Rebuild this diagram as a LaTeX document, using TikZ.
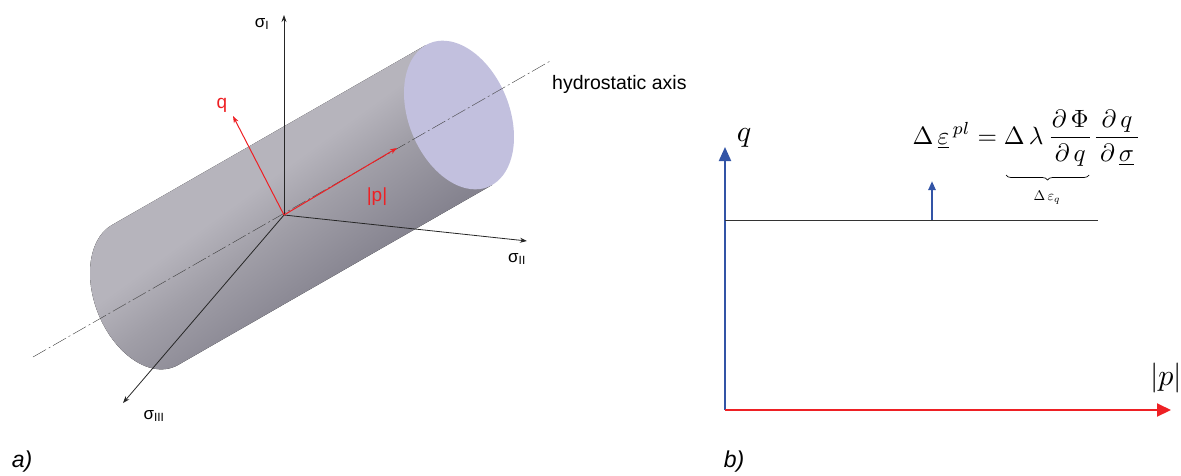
\documentclass[tikz,border=0pt]{standalone}
\usepackage{amsmath,amssymb}
\usepackage{fontspec}
\setmainfont{Liberation Sans}
\usetikzlibrary{arrows.meta,decorations.pathreplacing}
\definecolor{bodylight}{RGB}{182,180,188}
\definecolor{bodyedge}{RGB}{170,168,176}
\definecolor{bodymid}{RGB}{160,158,167}
\definecolor{bodydark}{RGB}{133,131,143}
\definecolor{bodyblue}{RGB}{150,150,186}
\definecolor{capface}{RGB}{194,192,222}
\definecolor{axisblue}{RGB}{50,84,166}
\definecolor{axisred}{RGB}{238,32,36}
\pgfdeclareverticalshading{cylbody}{100bp}{%
    color(0bp)=(bodyblue); color(28bp)=(bodyblue); color(31bp)=(bodydark); color(37bp)=(bodydark);
    color(48bp)=(bodymid); color(55bp)=(bodylight); color(66bp)=(bodylight); color(73bp)=(bodyedge); color(100bp)=(bodyedge)}

\begin{document}
\begin{tikzpicture}[
    x=1pt,
    y=-1pt,
    sigmaaxis/.style={-{Stealth[length=7pt,width=5pt]}, line width=0.8pt, black!85},
    redaxis/.style={-{Stealth[length=7pt,width=5pt]}, line width=1pt, axisred},
    sigmalabel/.style={font=\fontsize{17}{20}\selectfont, black},
    redlabel/.style={font=\fontsize{19}{20}\selectfont, axisred},
    panellabel/.style={font=\fontsize{23}{26}\selectfont\itshape, black},
    mathlabel/.style={scale=3, black}
]
\useasboundingbox (0,0) rectangle (1181,475);

% Cylinder body, far end arc taken as half an ellipse
\fill[shading=cylbody, shading angle=36]
    (426,45) -- (112,225)
    -- plot[domain=0:-180, samples=50, smooth] ({145+33*(-cos(\x))+44*sin(\x)}, {295-70*cos(\x)-25*sin(\x)})
    -- (492,185) -- cycle;

% Cylinder end face
\fill[capface] plot[domain=0:360, samples=80, smooth cycle] ({459-33*cos(\x)+44*sin(\x)}, {115-70*cos(\x)-25*sin(\x)});

% Free ends of the axes
\coordinate (origin) at (284,215);
\coordinate (sigIend) at (284,15);
\coordinate (sigIIend) at (527,241);
\coordinate (sigIIIend) at (123,403);
\coordinate (qend) at (233,116);
\coordinate (pend) at (397,148);
\coordinate (hydroA) at (33,357);
\coordinate (hydroB) at (552,60);

% Hydrostatic axis
\draw[thin, black!75, dash pattern=on 15pt off 3pt on 2pt off 3pt] (hydroA) -- (hydroB);

% Principal stress axes
\draw[sigmaaxis] (origin) -- (sigIend);
\draw[sigmaaxis] (origin) -- (sigIIend);
\draw[sigmaaxis] (origin) -- (sigIIIend);

% Red q and p arrows
\draw[redaxis] (origin) -- (qend);
\draw[redaxis] (origin) -- (pend);

% Labels of panel a
\node[sigmalabel] (sigI) at (262,24) {σ\textsubscript{I}};
\node[sigmalabel] (sigII) at (517,259) {σ\textsubscript{II}};
\node[sigmalabel] (sigIII) at (154,416) {σ\textsubscript{III}};
\node[redlabel] (qlabel) at (222,105) {q};
\node[redlabel] (plabel) at (377,197) {|p|};
\node[font=\fontsize{19.5}{20}\selectfont, anchor=west, inner sep=0pt] (hydrolabel) at (552,84) {hydrostatic axis};
\node[panellabel] (panela) at (22,462) {a)};

% Panel b diagram
\coordinate (corner) at (725,410);
\coordinate (qtop) at (725,147);
\coordinate (pright) at (1171,410);
\coordinate (lineleft) at (725,220);
\coordinate (lineright) at (1098,220);
\coordinate (flowfoot) at (932,220);
\coordinate (flowtip) at (932,181);
\coordinate (braceleft) at (1006,175);
\coordinate (braceright) at (1089,175);

\draw[-{Triangle[length=14pt,width=12pt]}, line width=2pt, axisblue] (corner) -- (qtop);
\draw[black!80, line width=0.9pt] (lineleft) -- (lineright);
\draw[-{Triangle[length=9pt,width=7pt]}, line width=2.4pt, axisblue] (flowfoot) -- (flowtip);
\draw[-{Triangle[length=14pt,width=13pt]}, line width=2pt, axisred] (corner) -- (pright);

% Labels of panel b
\node[mathlabel] (qaxis) at (744,138) {$q$};
\node[mathlabel] (paxis) at (1166,378) {$\lvert p\rvert$};
\node[scale=2.5, anchor=base west, inner sep=0pt] (flowrule) at (912,144)
    {$\Delta\,\underline{\varepsilon}^{\,pl}=\Delta\,\lambda\,\dfrac{\partial\,\Phi}{\,\partial\,q\,}\dfrac{\,\partial\,q\,}{\,\partial\,\underline{\sigma}\,}$};
\draw[decorate, decoration={brace, mirror, amplitude=5pt}, line width=0.7pt, black] (braceleft) -- (braceright);
\node[scale=1.4] (braceval) at (1047,198) {$\Delta\,\varepsilon_q$};
\node[panellabel] (panelb) at (734,462) {b)};

\end{tikzpicture}
\end{document}
